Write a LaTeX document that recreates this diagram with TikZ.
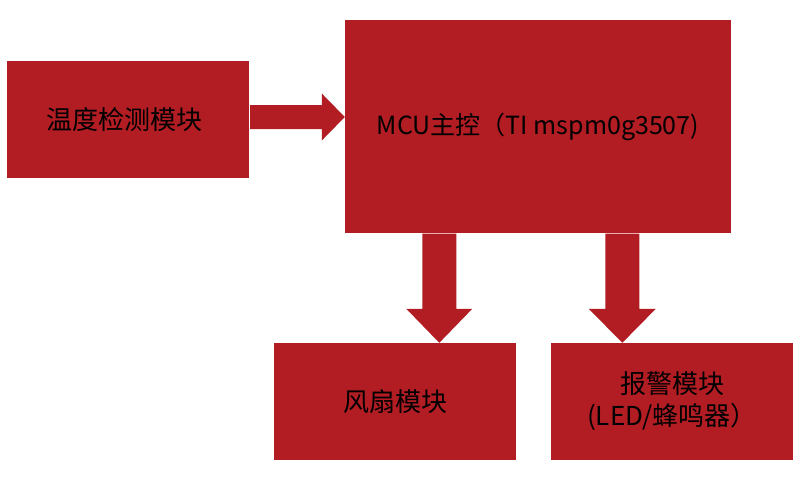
\documentclass[tikz,border=0pt]{standalone}
\usepackage{fontspec}
\setmainfont{Noto Sans CJK SC}
\usetikzlibrary{calc}
\definecolor{boxred}{RGB}{177,29,35}
\tikzset{
  block/.style={fill=boxred, draw=none, inner sep=0pt, align=center,
    text=black, font=\fontsize{26}{32}\selectfont},
  blockarrow/.style={fill=boxred, draw=none}
}
\begin{document}
\begin{tikzpicture}[x=1pt,y=-1pt]
\useasboundingbox (0,0) rectangle (798,477);
\node[block, minimum width=242pt, minimum height=117pt] (temp) at (128,119.5) {\hspace*{-7pt}温度检测模块};
\node[block, minimum width=386pt, minimum height=213pt, font=\fontsize{25}{32}\selectfont] (mcu) at (538,126.5) {MCU主控（TI mspm0g3507)};
\node[block, minimum width=242pt, minimum height=117pt] (fan) at (395,401.5) {风扇模块};
\node[block, minimum width=242pt, minimum height=117pt] (alarm) at (672,401.5) {报警模块\\(LED/蜂鸣器）};
% right arrow temp -> mcu
\coordinate (a1s) at ($(temp.east)+(1,-2.5)$);
\coordinate (a1e) at (mcu.west |- a1s);
\fill[blockarrow] ($(a1s)+(0,-12)$) -- ($(a1e)+(-23,-12)$) -- ($(a1e)+(-23,-23.5)$) -- (a1e)
  -- ($(a1e)+(-23,23.5)$) -- ($(a1e)+(-23,12)$) -- ($(a1s)+(0,12)$) -- cycle;
% down arrow mcu -> fan
\coordinate (d1s) at ($(mcu.south west)+(94.5,0.5)$);
\coordinate (d1e) at (d1s |- fan.north);
\fill[blockarrow] ($(d1s)+(-17,0)$) -- ($(d1e)+(-17,-34)$) -- ($(d1e)+(-33,-34)$) -- (d1e)
  -- ($(d1e)+(33,-34)$) -- ($(d1e)+(17,-34)$) -- ($(d1s)+(17,0)$) -- cycle;
% down arrow mcu -> alarm
\coordinate (d2s) at ($(mcu.south west)+(277.5,0.5)$);
\coordinate (d2e) at (d2s |- alarm.north);
\fill[blockarrow] ($(d2s)+(-17,0)$) -- ($(d2e)+(-17,-34)$) -- ($(d2e)+(-33.5,-34)$) -- (d2e)
  -- ($(d2e)+(33.5,-34)$) -- ($(d2e)+(17,-34)$) -- ($(d2s)+(17,0)$) -- cycle;
\end{tikzpicture}
\end{document}
